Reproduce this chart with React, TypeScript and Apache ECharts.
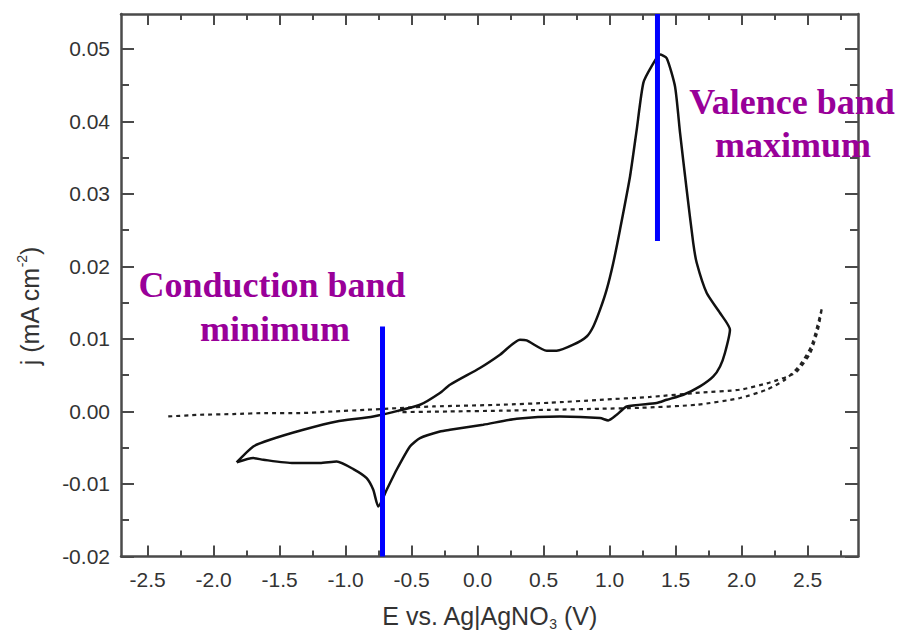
import React, { useEffect, useRef } from "react";
import * as echarts from "echarts";

// Cyclic voltammogram (solid): [E (V), j (mA cm^-2)] in scan order
const cvLoop: [number, number][] = [
  [-1.826, -0.00703], [-1.700, -0.00483], [-1.573, -0.0039], [-1.321, -0.00252],
  [-1.068, -0.00138], [-0.791, -0.00069], [-0.437, 0.00092], [-0.286, 0.00254],
  [-0.210, 0.00368], [0.017, 0.00599], [0.169, 0.00782], [0.320, 0.00989],
  [0.371, 0.00979], [0.523, 0.00837], [0.598, 0.00837], [0.724, 0.0092],
  [0.826, 0.01034], [0.876, 0.01172], [0.927, 0.01403], [0.977, 0.01679],
  [1.027, 0.02047], [1.078, 0.02506], [1.154, 0.0324], [1.205, 0.0389],
  [1.255, 0.0453], [1.318, 0.0476], [1.381, 0.0492], [1.432, 0.0487],
  [1.495, 0.0448], [1.533, 0.0384], [1.583, 0.0306], [1.633, 0.0232],
  [1.659, 0.0205], [1.735, 0.01633], [1.836, 0.01357], [1.911, 0.01127],
  [1.873, 0.00806], [1.836, 0.0062], [1.785, 0.00483], [1.684, 0.00345],
  [1.558, 0.0023], [1.432, 0.00161], [1.356, 0.00116], [1.129, 0.00069],
  [1.053, -0.00046], [0.989, -0.00124], [0.927, -0.00091], [0.623, -0.00069],
  [0.295, -0.001], [0.042, -0.00183], [-0.210, -0.00252], [-0.286, -0.00276],
  [-0.437, -0.00367], [-0.513, -0.00483], [-0.614, -0.00804], [-0.689, -0.0108],
  [-0.753, -0.0131], [-0.791, -0.0108], [-0.841, -0.00919], [-0.942, -0.00794],
  [-1.068, -0.0069], [-1.195, -0.00712], [-1.397, -0.00712], [-1.624, -0.00666],
  [-1.700, -0.00643], [-1.826, -0.00703],
];

// Blank scan (dashed)
const blankLoop: [number, number][] = [
  [-2.344, -0.00069], [-2.104, -0.00046], [-1.852, -0.00036], [-1.598, -0.00022],
  [-1.346, -0.00022], [-1.094, 0.0], [-0.841, 0.00023], [-0.589, 0.00047],
  [-0.336, 0.00069], [0.169, 0.00092], [0.548, 0.0012], [0.926, 0.0016],
  [1.305, 0.002], [1.684, 0.0026], [1.987, 0.003], [2.214, 0.004],
  [2.404, 0.0053], [2.518, 0.008], [2.578, 0.0113], [2.608, 0.0143],
  [2.532, 0.0092], [2.442, 0.0064], [2.33, 0.0044], [2.189, 0.003],
  [1.987, 0.00185], [1.659, 0.00092], [1.23, 0.0005], [0.926, 0.00037],
  [0.548, 0.00023], [0.169, 0.0001], [-0.21, 0.0], [-0.6, -0.0001],
];

// Band-edge markers
const cbmLine: [number, number][] = [[-0.721, -0.02], [-0.721, 0.0117]];
const vbmLine: [number, number][] = [[1.362, 0.0235], [1.362, 0.0548]];

const xMajorTicks = [-2.5, -2.0, -1.5, -1.0, -0.5, 0.0, 0.5, 1.0, 1.5, 2.0, 2.5];
const xMinorTicks = [-2.25, -1.75, -1.25, -0.75, -0.25, 0.25, 0.75, 1.25, 1.75, 2.25, 2.75];
const yMajorTicks = [-0.02, -0.01, 0.0, 0.01, 0.02, 0.03, 0.04, 0.05];
const yMinorTicks = [-0.015, -0.005, 0.005, 0.015, 0.025, 0.035, 0.045];

const X_MIN = -2.702;
const X_MAX = 2.881;
const Y_MIN = -0.02;
const Y_MAX = 0.0548;

const AXIS_COLOR = "#4a4a4a";
const LABEL_FONT = "Liberation Sans";

export default function App() {
  const ref = useRef<HTMLDivElement>(null);

  useEffect(() => {
    if (!ref.current) return;
    const chart = echarts.init(ref.current, undefined, { renderer: "svg" });

    const tickAxisX = (position: "top" | "bottom", values: number[], len: number, main: boolean, withLabel: boolean) => ({
      type: "value",
      position,
      min: X_MIN,
      max: X_MAX,
      axisLine: { show: main, onZero: false, lineStyle: { color: AXIS_COLOR, width: 2.5 } },
      axisTick: { show: true, inside: true, length: len, customValues: values, lineStyle: { color: AXIS_COLOR, width: 2 } },
      axisLabel: withLabel
        ? {
            show: true,
            customValues: values,
            margin: 12,
            color: "#333",
            fontFamily: LABEL_FONT,
            fontSize: 21,
            formatter: (v: number) => v.toFixed(1),
          }
        : { show: false },
      splitLine: { show: false },
    });

    const tickAxisY = (position: "left" | "right", values: number[], len: number, main: boolean, withLabel: boolean) => ({
      type: "value",
      position,
      min: Y_MIN,
      max: Y_MAX,
      axisLine: { show: main, onZero: false, lineStyle: { color: AXIS_COLOR, width: 2.5 } },
      axisTick: { show: true, inside: true, length: len, customValues: values, lineStyle: { color: AXIS_COLOR, width: 2 } },
      axisLabel: withLabel
        ? {
            show: true,
            customValues: values,
            margin: 11,
            color: "#333",
            fontFamily: LABEL_FONT,
            fontSize: 21,
            formatter: (v: number) => v.toFixed(2),
          }
        : { show: false },
      splitLine: { show: false },
    });

    const xMain: any = tickAxisX("bottom", xMajorTicks, 11, true, true);
    xMain.name = "{a|E vs. Ag|AgNO}{b|3}{a| (V)}";
    xMain.nameLocation = "middle";
    xMain.nameGap = 44;
    xMain.nameTextStyle = {
      rich: {
        a: { fontFamily: LABEL_FONT, fontSize: 25, color: "#333", lineHeight: 30 },
        b: { fontFamily: LABEL_FONT, fontSize: 14, color: "#333", lineHeight: 14, verticalAlign: "bottom" },
      },
    };

    const yMain: any = tickAxisY("left", yMajorTicks, 13, true, true);
    yMain.name = "{a|j (mA cm}{c|-2}{a|)}";
    yMain.nameLocation = "middle";
    yMain.nameGap = 76;
    yMain.nameRotate = 90;
    yMain.nameTextStyle = {
      padding: [0, 42, 0, 0],
      rich: {
        a: { fontFamily: LABEL_FONT, fontSize: 25, color: "#333", lineHeight: 30 },
        c: { fontFamily: LABEL_FONT, fontSize: 14, color: "#333", lineHeight: 14, verticalAlign: "top" },
      },
    };

    const option: any = {
      animation: false,
      backgroundColor: "#ffffff",
      grid: { left: 121, right: 43, top: 14, bottom: 82.5, containLabel: false },
      xAxis: [
        xMain,
        tickAxisX("bottom", xMinorTicks, 6, false, false),
        tickAxisX("top", xMajorTicks, 11, true, false),
        tickAxisX("top", xMinorTicks, 6, false, false),
      ],
      yAxis: [
        yMain,
        tickAxisY("left", yMinorTicks, 8, false, false),
        tickAxisY("right", yMajorTicks, 13, true, false),
        tickAxisY("right", yMinorTicks, 8, false, false),
      ],
      series: [
        {
          type: "line",
          name: "blank",
          data: blankLoop,
          xAxisIndex: 0,
          yAxisIndex: 0,
          showSymbol: false,
          symbol: "none",
          smooth: 0.2,
          lineStyle: { color: "#222", width: 2.2, type: [4, 4] },
          z: 2,
        },
        {
          type: "line",
          name: "CV",
          data: cvLoop,
          xAxisIndex: 0,
          yAxisIndex: 0,
          showSymbol: false,
          symbol: "none",
          smooth: 0.2,
          lineStyle: { color: "#111", width: 2.5 },
          z: 3,
        },
        {
          type: "line",
          name: "CBM",
          data: cbmLine,
          xAxisIndex: 0,
          yAxisIndex: 0,
          showSymbol: false,
          symbol: "none",
          lineStyle: { color: "#0000ff", width: 5 },
          z: 4,
        },
        {
          type: "line",
          name: "VBM",
          data: vbmLine,
          xAxisIndex: 0,
          yAxisIndex: 0,
          showSymbol: false,
          symbol: "none",
          lineStyle: { color: "#0000ff", width: 5 },
          z: 4,
        },
      ],
      graphic: [
        {
          type: "text",
          x: 272,
          y: 285,
          z: 10,
          style: {
            text: "Conduction band",
            font: 'bold 36px "Liberation Serif"',
            fill: "#990099",
            textAlign: "center",
            textVerticalAlign: "middle",
          },
        },
        {
          type: "text",
          x: 275,
          y: 329,
          z: 10,
          style: {
            text: "minimum",
            font: 'bold 36px "Liberation Serif"',
            fill: "#990099",
            textAlign: "center",
            textVerticalAlign: "middle",
          },
        },
        {
          type: "text",
          x: 792,
          y: 102,
          z: 10,
          style: {
            text: "Valence band",
            font: 'bold 36px "Liberation Serif"',
            fill: "#990099",
            textAlign: "center",
            textVerticalAlign: "middle",
          },
        },
        {
          type: "text",
          x: 793,
          y: 145,
          z: 10,
          style: {
            text: "maximum",
            font: 'bold 36px "Liberation Serif"',
            fill: "#990099",
            textAlign: "center",
            textVerticalAlign: "middle",
          },
        },
      ],
    };

    chart.setOption(option);
    return () => chart.dispose();
  }, []);

  return (
    <div
      ref={ref}
      style={{ position: "fixed", left: 0, top: 0, width: 901, height: 639, background: "#fff" }}
    />
  );
}
